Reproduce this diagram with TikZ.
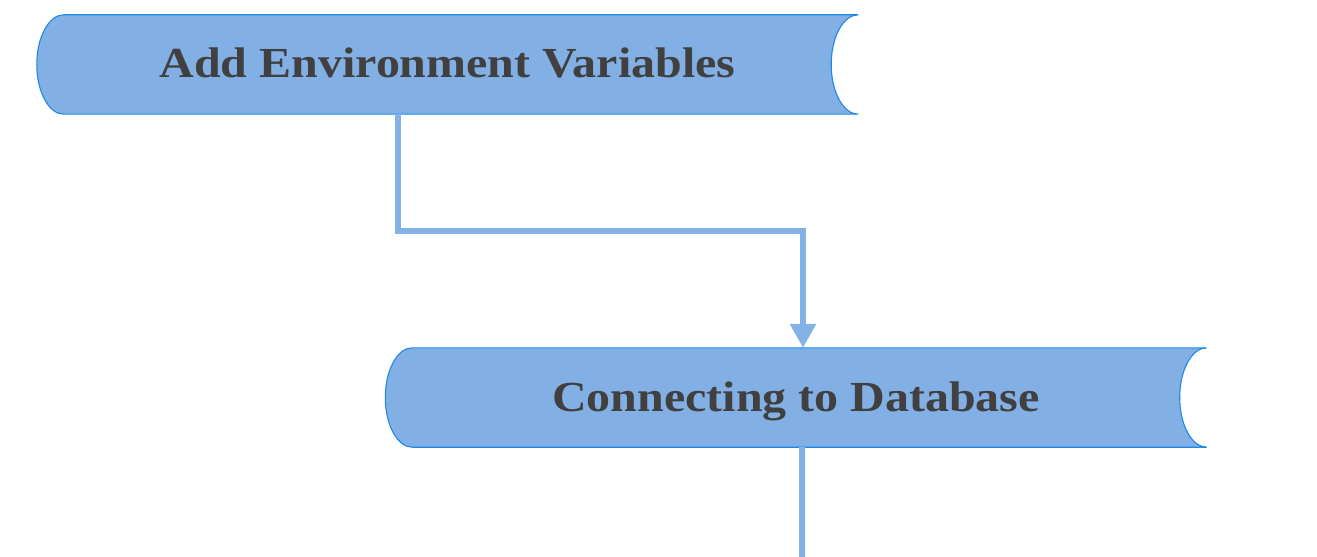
\documentclass[tikz,border=0pt]{standalone}
\usepackage{fontspec}
\setmainfont{Liberation Serif}
\newfontfamily\tapefont[FakeStretch=1.12]{Liberation Serif}
\usetikzlibrary{arrows.meta,backgrounds}
\definecolor{tapefill}{RGB}{130,176,228}
\definecolor{tapeline}{RGB}{30,136,229}
\definecolor{connline}{RGB}{130,178,230}
\definecolor{txtgray}{RGB}{64,64,64}
\tikzset{
  tapetext/.style={minimum width=821bp, minimum height=99bp, inner sep=0pt,
    text height=27bp, text depth=0bp,
    font=\tapefont\fontsize{43}{47}\selectfont\bfseries, text=txtgray},
  tapeshape/.style={fill=tapefill, draw=tapeline, line width=1.1bp},
  conn/.style={draw=connline, line width=6bp},
  connarrow/.style={conn, -{Triangle[length=24bp,width=25bp]}}
}
\newcommand\drawtape[1]{%
  \path[tapeshape]
    ([xshift=27bp]#1.north west)
    .. controls ([xshift=12bp]#1.north west) and ([yshift=27.3bp]#1.west) .. (#1.west)
    .. controls ([yshift=-27.3bp]#1.west) and ([xshift=12bp]#1.south west) .. ([xshift=27bp]#1.south west)
    -- (#1.south east)
    .. controls ([xshift=-15bp]#1.south east) and ([xshift=-27bp,yshift=-27.3bp]#1.east) .. ([xshift=-27bp]#1.east)
    .. controls ([xshift=-27bp,yshift=27.3bp]#1.east) and ([xshift=-15bp]#1.north east) .. (#1.north east)
    -- cycle;}
\begin{document}
\begin{tikzpicture}[x=1bp,y=-1bp]
\useasboundingbox (0,0) rectangle (1317,557);
\node[tapetext] (env) at (447.5,64.5) {Add Environment Variables};
\node[tapetext] (db) at (796,397.5) {Connecting to Database};
\coordinate (bottom) at (802,557);
\begin{scope}[on background layer]
  \drawtape{env}
  \drawtape{db}
\end{scope}
\draw[connarrow] ([xshift=-49.5bp]env.south) -- ++(0,117) -| ([xshift=7bp]db.north);
\draw[conn] ([xshift=6bp]db.south) -- (bottom);
\end{tikzpicture}
\end{document}
